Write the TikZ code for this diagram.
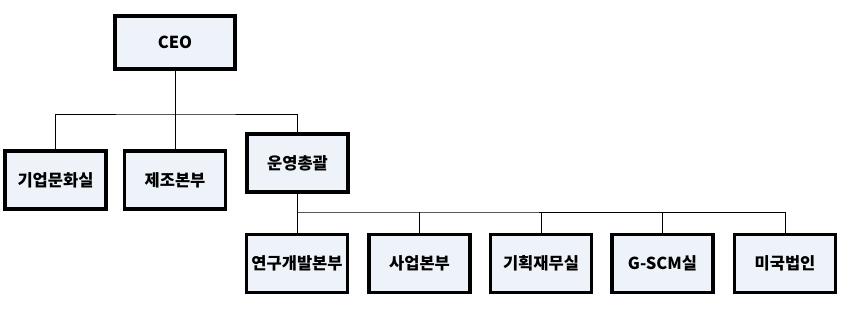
\documentclass[tikz,border=0pt]{standalone}
\usepackage{fontspec}
\setmainfont{Noto Sans CJK KR}
\definecolor{BoxClr}{RGB}{238, 243, 250}
\definecolor{LineClr}{RGB}{0, 0, 0}

\begin{document}
\begin{tikzpicture}[x=1pt,y=-1pt,
  unit/.style={draw=LineClr,line width=3.5pt,fill=BoxClr,minimum width=101pt,minimum height=58pt,
    inner sep=0pt,font=\fontsize{16.5}{19}\selectfont\bfseries},
  link/.style={line width=0.8pt,color=LineClr}]
\useasboundingbox (0,0) rectangle (842,310);

% top
\node[unit,minimum width=120pt,minimum height=53pt] (ceo) at (175,42.5) {CEO};

% second row
\node[unit] (culture) at (55.5,180) {기업문화실};
\node[unit] (mfg) at (175,180) {제조본부};
\node[unit] (ops) at (297.5,163) {운영총괄};

% third row
\node[unit] (rnd) at (297,263.5) {연구개발본부};
\node[unit] (biz) at (419.5,263.5) {사업본부};
\node[unit] (fin) at (541,263.5) {기획재무실};
\node[unit] (scm) at (662.5,263.5) {G-SCM실};
\node[unit] (us) at (785,263.5) {미국법인};

\coordinate (busA) at (175,114);
\coordinate (busB) at (297.5,212);

\draw[link] (ceo.south) -- (mfg.north);
\draw[link] (culture.north) |- (busA) -| (ops.north);

\draw[link] (ops.south) -- (busB);
\draw[link] (rnd.north) |- (busB) -| (us.north);
\draw[link] (busB -| biz.north) -- (biz.north);
\draw[link] (busB -| fin.north) -- (fin.north);
\draw[link] (busB -| scm.north) -- (scm.north);

\end{tikzpicture}
\end{document}
